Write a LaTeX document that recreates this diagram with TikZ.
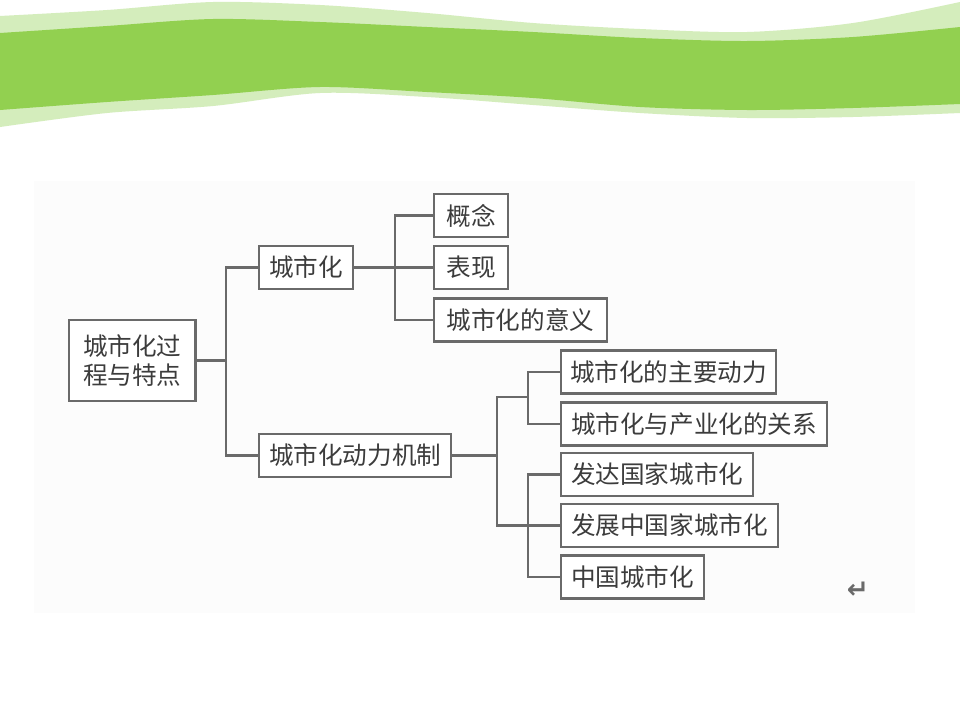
\documentclass[tikz,border=0pt]{standalone}
\usepackage{fontspec}
\newfontfamily\cjk{Noto Sans CJK SC}
\newfontfamily\symfont{DejaVu Sans}
\usepackage{xcolor}
\usetikzlibrary{positioning,calc}

\definecolor{bandlight}{HTML}{D4EDBC}
\definecolor{banddark}{HTML}{92D050}
\definecolor{boxline}{HTML}{6A6A6A}
\definecolor{boxtext}{HTML}{3C3C3C}

\tikzset{
  topic/.style={draw=boxline, line width=1.3pt, fill=white, text=boxtext,
    font=\cjk\fontsize{14pt}{16.5pt}\selectfont, anchor=west,
    inner xsep=0.2cm, minimum height=0.86cm},
  link/.style={draw=boxline, line width=1.2pt},
}

\begin{document}
\begin{tikzpicture}[x=0.02cm, y=-0.02cm]
    \useasboundingbox (0,0) rectangle (960,720);
    \fill[white] (0,0) rectangle (960,720);
    % green wave at the top
    \fill[bandlight] plot[smooth] coordinates {(0,16) (107,10) (213,2) (320,5) (427,13) (533,23) (640,29) (747,32) (853,23) (960,2)}
      -- plot[smooth] coordinates {(960,113) (853,117) (747,118) (640,113) (533,105) (427,97) (320,93) (213,106) (107,113) (0,127)} -- cycle;
    \fill[banddark] plot[smooth] coordinates {(0,33) (107,26) (213,19) (320,22) (427,27) (533,32) (640,38) (747,41) (853,37) (960,27)}
      -- plot[smooth] coordinates {(960,104) (853,108) (747,110) (640,107) (533,98) (427,92) (320,87) (213,95) (107,102) (0,110)} -- cycle;
    % scanned page
    \fill[black!1] (34,181) rectangle (915,613);

    \node[topic, inner xsep=0.28cm, minimum height=1.62cm, align=center] (root) at (68,360.5) {城市化过\\程与特点};
    \node[topic] (urb) at (258,267.5) {城市化};
    \node[topic] (dyn) at (258,455.5) {城市化动力机制};

    \node[topic, inner xsep=0.25cm] (gn) at (433,215.5) {概念};
    \node[topic, inner xsep=0.25cm] (bx) at (433,267.5) {表现};
    \node[topic, inner xsep=0.25cm] (yy) at (433,320) {城市化的意义};

    \node[topic, inner xsep=0.18cm] (mainf) at (560,372) {城市化的主要动力};
    \node[topic] (rel) at (560,424) {城市化与产业化的关系};
    \node[topic] (adv) at (560,474.5) {发达国家城市化};
    \node[topic] (dev) at (560,525.5) {发展中国家城市化};
    \node[topic] (cn) at (560,577) {中国城市化};

    \coordinate (j1) at (226,360.5);
    \coordinate (j2) at (395,267.5);
    \coordinate (j3) at (497,455.5);
    \coordinate (j4) at (528,397);
    \coordinate (j5) at (528,525.5);

    \draw[link] (root.east) -- (j1);
    \draw[link] (urb.west) -| (j1) |- (dyn.west);
    \draw[link] (urb.east) -- (j2) -- (bx.west);
    \draw[link] (gn.west) -| (j2) |- (yy.west);
    \draw[link] (dyn.east) -- (j3);
    \draw[link] (j4) -| (j3) |- (dev.west);
    \draw[link] (mainf.west) -| (j4) |- (rel.west);
    \draw[link] (adv.west) -| (j5) |- (cn.west);

    \node[font=\symfont\bfseries\fontsize{15pt}{15pt}\selectfont, text=boxline] (ret) at (858,590) {↵};
\end{tikzpicture}
\end{document}
